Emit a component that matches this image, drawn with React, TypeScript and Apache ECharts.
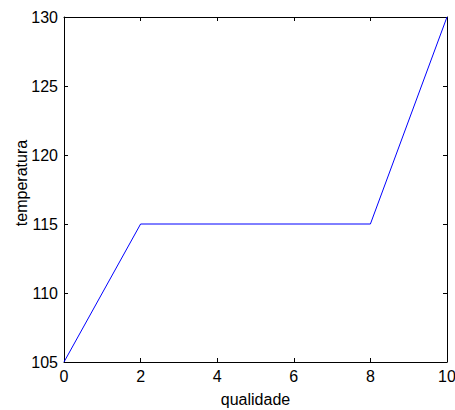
import React, { useEffect, useRef } from "react";
import * as echarts from "echarts";

const xValues = [0, 2, 8, 10];
const yValues = [105, 115, 115, 130];
const xTicks = [0, 2, 4, 6, 8, 10];
const yTicks = [105, 110, 115, 120, 125, 130];
const xName = "qualidade";
const yName = "temperatura";

export default function App() {
  const ref = useRef<HTMLDivElement>(null);
  useEffect(() => {
    document.body.style.margin = "0";
    const chart = echarts.init(ref.current!, undefined, { renderer: "svg" });
    const font = "Liberation Sans";
    const fs = 16;
    const axisCommon = {
      axisLine: { show: true, onZero: false, lineStyle: { color: "#000", width: 1 } },
      axisTick: { show: true, inside: true, length: 4, lineStyle: { color: "#000" } },
      splitLine: { show: false },
    };
    chart.setOption({
      animation: false,
      backgroundColor: "#fff",
      grid: { left: 64, top: 17, right: 8, bottom: 48, containLabel: false, outerBoundsMode: "none" },
      graphic: [
        {
          type: "text", x: 21, y: 183, rotation: Math.PI / 2,
          style: { text: yName, fontFamily: font, fontSize: fs, fill: "#000",
            align: "center", verticalAlign: "middle" },
        },
      ],
      xAxis: [
        {
          type: "value", min: 0, max: 10, interval: 2, position: "bottom",
          name: xName, nameLocation: "middle", nameGap: 29,
          nameTextStyle: { fontFamily: font, fontSize: fs, color: "#000" },
          axisLabel: { fontFamily: font, fontSize: fs, color: "#000", margin: 6,
            formatter: (v: number) => (xTicks.includes(v) ? String(v) : "") },
          ...axisCommon,
        },
        {
          type: "value", min: 0, max: 10, interval: 2, position: "top",
          axisLabel: { show: false }, ...axisCommon,
        },
      ],
      yAxis: [
        {
          type: "value", min: 105, max: 130, interval: 5, position: "left",
          axisLabel: { fontFamily: font, fontSize: fs, color: "#000", margin: 6,
            formatter: (v: number) => (yTicks.includes(v) ? String(v) : "") },
          ...axisCommon,
        },
        {
          type: "value", min: 105, max: 130, interval: 5, position: "right",
          axisLabel: { show: false }, ...axisCommon,
        },
      ],
      series: [
        {
          type: "line",
          data: xValues.map((x, i) => [x, yValues[i]]),
          showSymbol: false,
          lineStyle: { color: "#0000ff", width: 1 },
          itemStyle: { color: "#0000ff" },
        },
      ],
    });
    return () => chart.dispose();
  }, []);
  return <div ref={ref} style={{ position: "fixed", left: 0, top: 0, width: 455, height: 410 }} />;
}
